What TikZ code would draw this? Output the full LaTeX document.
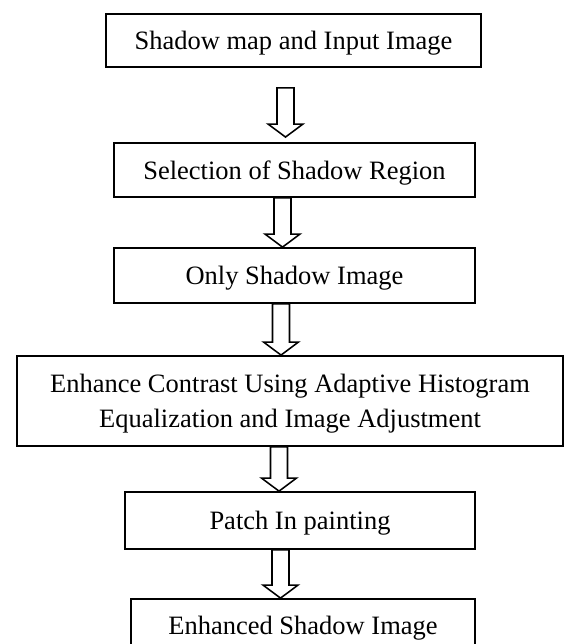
\documentclass[tikz,border=0pt]{standalone}
\usepackage{fontspec}
\setmainfont{Liberation Serif}
\usetikzlibrary{calc}

% hollow block arrow from #1 (top of the shaft) down to #2 (tip)
\newcommand{\hollowarrow}[2]{%
  \draw[hollow] let \p1=(#1), \p2=(#2) in
    (\x1-3.85pt,\y1) -- (\x1+3.85pt,\y1) -- (\x1+3.85pt,\y2+5.9pt)
    -- (\x1+7.9pt,\y2+5.9pt) -- (\x1,\y2) -- (\x1-7.9pt,\y2+5.9pt)
    -- (\x1-3.85pt,\y2+5.9pt) -- cycle;}

\begin{document}
\begin{tikzpicture}[
  x=0.453pt, y=-0.453pt,
  font=\fontsize{12}{15.5}\selectfont,
  stepbox/.style={draw, line width=0.8pt, align=center, inner sep=0pt,
                  text height=8.2pt, text depth=0pt},
  hollow/.style ={line width=0.7pt, line join=miter},
]
  \useasboundingbox (0,0) rectangle (564,644);

  \node[stepbox, minimum width=169.9pt, minimum height=24pt]   (input)   at (293.5,40.5)  {Shadow map and Input Image};
  \node[stepbox, minimum width=163.5pt, minimum height=24.5pt] (select)  at (294.5,170)   {Selection of Shadow Region};
  \node[stepbox, minimum width=163.5pt, minimum height=24.9pt] (only)    at (294.5,275.5) {Only Shadow Image};
  \node[stepbox, minimum width=247.3pt, minimum height=40.8pt, text height=23.7pt] (enhance) at (290,401)
    {Enhance Contrast Using Adaptive Histogram\\Equalization and Image Adjustment};
  \node[stepbox, minimum width=158.6pt, minimum height=25.8pt] (patch)   at (300,520.5)   {Patch In painting};
  \node[stepbox, minimum width=155.8pt, minimum height=24pt]   (result)  at (303,625.5)   {Enhanced Shadow Image};

  % x positions of the arrows
  \coordinate (ax1) at (285.5,0);
  \coordinate (ax2) at (282.5,0);
  \coordinate (ax3) at (281,0);
  \coordinate (ax4) at (279,0);
  \coordinate (ax5) at (280.5,0);

  \hollowarrow{$(ax1 |- input.south)+(0,20)$}{$(ax1 |- select.north)+(0,-5)$}
  \hollowarrow{ax2 |- select.south}{ax2 |- only.north}
  \hollowarrow{ax3 |- only.south}{ax3 |- enhance.north}
  \hollowarrow{ax4 |- enhance.south}{ax4 |- patch.north}
  \hollowarrow{ax5 |- patch.south}{ax5 |- result.north}
\end{tikzpicture}
\end{document}
